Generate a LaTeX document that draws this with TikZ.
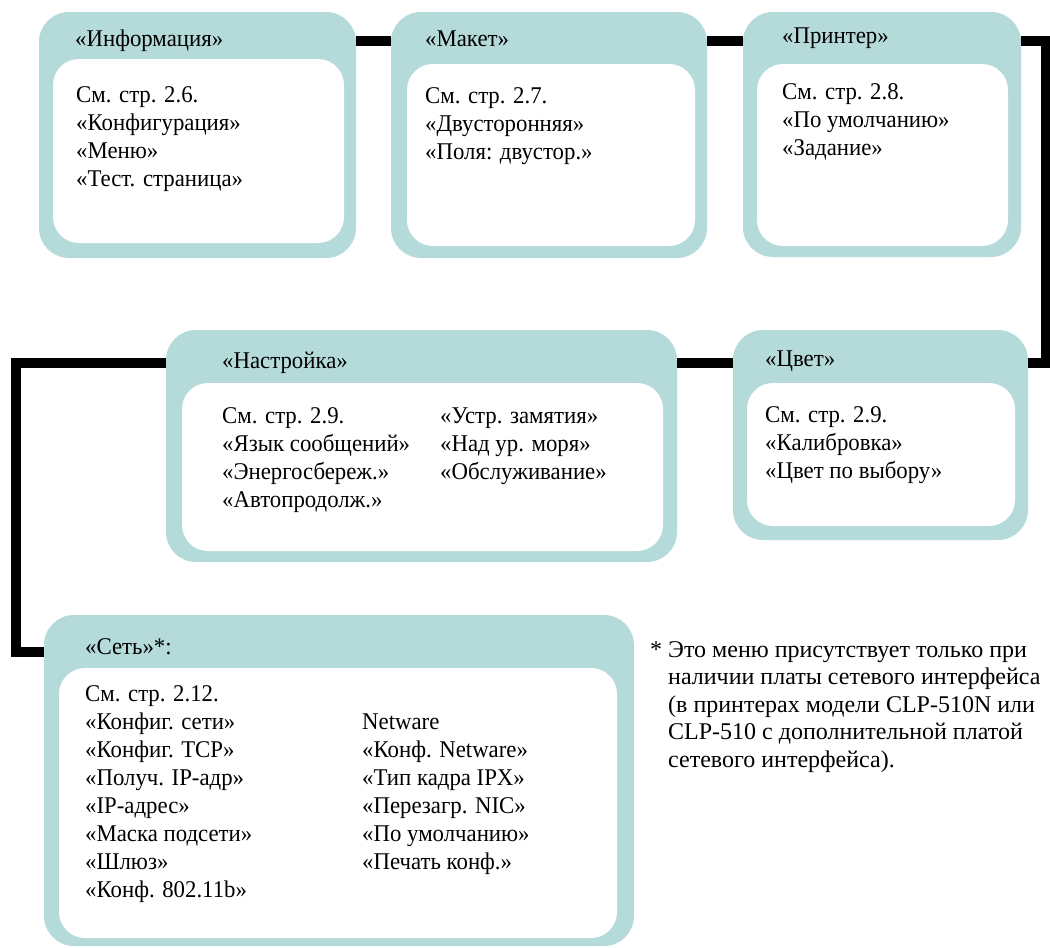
\documentclass[tikz,border=0pt]{standalone}
\usepackage{fontspec}
\setmainfont{Liberation Serif}
\newfontfamily\boxfont[FakeStretch=0.95]{Liberation Serif}
\definecolor{teal1}{RGB}{180,218,218}
\newcommand{\txtcol}[1]{\begin{tabular}[t]{@{}l@{}}#1\end{tabular}}
\begin{document}
\begin{tikzpicture}[x=1pt,y=-1pt,
  outerbox/.style={fill=teal1, rounded corners=30pt, inner sep=0pt},
  innerbox/.style={fill=white, rounded corners=26pt, inner sep=0pt},
  txt/.style={anchor=base west, inner sep=0pt, font=\boxfont\fontsize{24}{28}\selectfont},
  note/.style={anchor=base west, inner sep=0pt, font=\rmfamily\fontsize{24}{27.5}\selectfont},
  link/.style={line width=10pt, line join=miter, line cap=butt}]
\useasboundingbox (0,0) rectangle (1050,948);
% boxes
\node[outerbox, minimum width=317pt, minimum height=246pt] (b1) at (197.5,135) {};
\node[innerbox, minimum width=291pt, minimum height=184pt] (i1) at (198.5,151) {};
\node[outerbox, minimum width=316pt, minimum height=246pt] (b2) at (549,135) {};
\node[innerbox, minimum width=288pt, minimum height=182pt] (i2) at (551,155) {};
\node[outerbox, minimum width=278pt, minimum height=245pt] (b3) at (882,134.5) {};
\node[innerbox, minimum width=251pt, minimum height=182pt] (i3) at (882.5,155) {};
\node[outerbox, minimum width=295pt, minimum height=210pt] (b4) at (880.5,435) {};
\node[innerbox, minimum width=268pt, minimum height=143pt] (i4) at (881,454.5) {};
\node[outerbox, minimum width=511pt, minimum height=232pt] (b5) at (421.5,446) {};
\node[innerbox, minimum width=481pt, minimum height=168pt] (i5) at (422.5,467) {};
\node[outerbox, minimum width=590pt, minimum height=331pt] (b6) at (339,780.5) {};
\node[innerbox, minimum width=558pt, minimum height=270pt] (i6) at (338,803) {};
% routing coordinates
\coordinate (r1) at (0,40.5);
\coordinate (r2) at (0,362.5);
\coordinate (r3) at (0,652);
\coordinate (cr) at (1046,0);
\coordinate (cl) at (16,0);
% connectors
\draw[link] (b1.east |- r1) -- (b2.west |- r1);
\draw[link] (b2.east |- r1) -- (b3.west |- r1);
\draw[link] (b3.east |- r1) -- (cr |- r1) -- (cr |- r2) -- (b4.east |- r2);
\draw[link] (b4.west |- r2) -- (b5.east |- r2);
\draw[link] (b5.west |- r2) -- (cl |- r2) -- (cl |- r3) -- (b6.west |- r3);
% texts
\node[txt] (t1) at (75,46) {«Информация»};
\node[txt] (x1) at (76,102) {\txtcol{См. стр. 2.6.\\«Конфигурация»\\«Меню»\\«Тест. страница»}};
\node[txt] (t2) at (425,46) {«Макет»};
\node[txt] (x2) at (425,103) {\txtcol{См. стр. 2.7.\\«Двусторонняя»\\«Поля: двустор.»}};
\node[txt] (t3) at (782,43) {«Принтер»};
\node[txt] (x3) at (782,99) {\txtcol{См. стр. 2.8.\\«По умолчанию»\\«Задание»}};
\node[txt] (t4) at (765,366) {«Цвет»};
\node[txt] (x4) at (765,422) {\txtcol{См. стр. 2.9.\\«Калибровка»\\«Цвет по выбору»}};
\node[txt] (t5) at (222,368) {«Настройка»};
\node[txt] (x5a) at (222,423) {\txtcol{См. стр. 2.9.\\«Язык сообщений»\\«Энергосбереж.»\\«Автопродолж.»}};
\node[txt] (x5b) at (440,423) {\txtcol{«Устр. замятия»\\«Над ур. моря»\\«Обслуживание»}};
\node[txt] (t6) at (85,654) {«Сеть»*:};
\node[txt] (x6a) at (85,701) {\txtcol{См. стр. 2.12.\\«Конфиг. сети»\\«Конфиг. TCP»\\«Получ. IP-адр»\\«IP-адрес»\\«Маска подсети»\\«Шлюз»\\«Конф. 802.11b»}};
\node[txt] (x6b) at (362,729) {\txtcol{Netware\\«Конф. Netware»\\«Тип кадра IPX»\\«Перезагр. NIC»\\«По умолчанию»\\«Печать конф.»}};
\node[note] (fs) at (650,657) {*};
\node[note] (fn) at (668,657) {\txtcol{Это меню присутствует только при\\наличии платы сетевого интерфейса\\(в принтерах модели CLP-510N или\\CLP-510 с дополнительной платой\\сетевого интерфейса).}};
\end{tikzpicture}
\end{document}
